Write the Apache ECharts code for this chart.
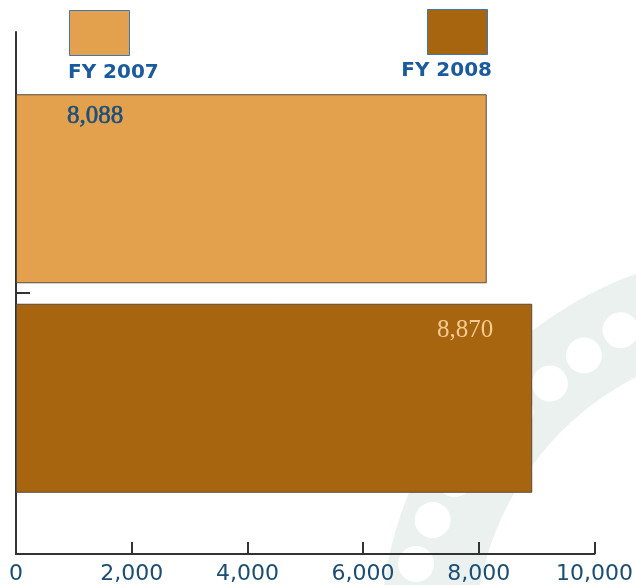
<!DOCTYPE html>
<html>
<head>
<meta charset="utf-8">
<script src="https://cdn.jsdelivr.net/npm/echarts@6/dist/echarts.min.js"></script>
<style>
  html, body { margin: 0; padding: 0; background: #ffffff; }
  #chart { width: 636px; height: 585px; }
</style>
</head>
<body>
<div id="chart"></div>
<script>
// Fiscal years and totals
const categories = ['FY 2007', 'FY 2008'];
const values = [8088, 8870];
const barColors = ['#E3A14E', '#A8650F'];
const labelColors = ['#1D4F7A', '#F6CA90'];
const xTicks = [0, 2000, 4000, 6000, 8000, 10000];

const chart = echarts.init(document.getElementById('chart'));

// One series per year so each gets its own legend swatch; they share a slot per row
const series = categories.map((name, i) => ({
  name: name,
  type: 'bar',
  xAxisIndex: 1,
  yAxisIndex: 1,
  barWidth: 189,
  barGap: '-100%',
  data: categories.map((c, j) => (j === i ? values[i] : '-')),
  itemStyle: { color: barColors[i], borderColor: '#5a4a3a', borderWidth: 1 },
  label: {
    show: true,
    formatter: p => p.value.toLocaleString('en-US'),
    fontFamily: 'Liberation Serif',
    fontSize: 25,
    color: labelColors[i],
    textBorderColor: i === 0 ? labelColors[i] : 'transparent',
    textBorderWidth: i === 0 ? 0.6 : 0,
    position: i === 0 ? [51, 10] : ['100%', 14],
    align: i === 0 ? 'left' : 'right',
    offset: i === 0 ? [0, 0] : [-39, 0]
  },
  z: 3
}));

// Faint seal watermark behind the plot: a ring band with a row of white dots
const sealCx = 770, sealCy = 640;
const sealDots = [
  { a: -2.02, r: 344 }, { a: -2.15, r: 340 }, { a: -2.28, r: 338 },
  { a: -2.41, r: 342 }, { a: -2.54, r: 348 }, { a: -2.67, r: 354 },
  { a: -2.80, r: 358 }, { a: -2.93, r: 362 }
].map(d => ({
  type: 'circle',
  shape: { cx: sealCx + d.r * Math.cos(d.a), cy: sealCy + d.r * Math.sin(d.a), r: 18 },
  style: { fill: '#ffffff' },
  z: -9
}));

const legendBase = {
  icon: 'rect', itemWidth: 60, itemHeight: 45, formatter: () => '',
  selectedMode: false, itemGap: 0, padding: 0,
  itemStyle: { borderColor: '#3A78B8', borderWidth: 1 }
};

chart.setOption({
  animation: false,
  backgroundColor: '#ffffff',
  grid: [
    { left: 16, right: 38, top: 32, bottom: 30 },
    { left: 16, right: 38, top: 84, bottom: 82 }
  ],
  legend: [
    Object.assign({ data: [categories[0]], left: 69, top: 10 }, legendBase),
    Object.assign({ data: [categories[1]], left: 427, top: 9 }, legendBase)
  ],
  xAxis: [
    {
      gridIndex: 0, type: 'value', min: xTicks[0], max: xTicks[xTicks.length - 1], interval: 2000,
      axisLine: { show: true, lineStyle: { color: '#333333', width: 2 } },
      axisTick: { show: true, inside: true, length: 12, lineStyle: { color: '#333333', width: 2 } },
      splitLine: { show: false },
      axisLabel: {
        margin: 9, fontFamily: 'DejaVu Sans', fontSize: 22, color: '#1B4E74',
        formatter: v => v.toLocaleString('en-US')
      }
    },
    {
      gridIndex: 1, type: 'value', min: xTicks[0], max: xTicks[xTicks.length - 1],
      show: false, splitLine: { show: false }
    }
  ],
  yAxis: [
    {
      gridIndex: 0, type: 'category', boundaryGap: false, data: ['', '', ''],
      axisLine: { show: true, lineStyle: { color: '#333333', width: 2 } },
      axisTick: { show: true, inside: true, length: 14, interval: (i) => i === 1,
                  lineStyle: { color: '#333333', width: 2 } },
      axisLabel: { show: false },
      splitLine: { show: false }
    },
    {
      gridIndex: 1, type: 'category', inverse: true, data: categories,
      axisLine: { show: false }, axisTick: { show: false }, axisLabel: { show: false },
      splitLine: { show: false }
    }
  ],
  graphic: [
    {
      type: 'group', silent: true, z: -10,
      children: [
        {
          type: 'sector',
          shape: { cx: sealCx, cy: sealCy, r0: 295, r: 390, startAngle: Math.PI * 0.95, endAngle: Math.PI * 1.62 },
          style: { fill: '#EAF1EF' },
          z: -10
        }
      ].concat(sealDots)
    },
    {
      type: 'text', left: 68, top: 63, z: 10,
      style: { text: categories[0], fontFamily: 'DejaVu Sans', fontWeight: 'bold', fontSize: 20, fill: '#1A5BA0' }
    },
    {
      type: 'text', right: 144, top: 61, z: 10,
      style: { text: categories[1], fontFamily: 'DejaVu Sans', fontWeight: 'bold', fontSize: 20, fill: '#1A5BA0' }
    }
  ],
  series: series
});
</script>
</body>
</html>
